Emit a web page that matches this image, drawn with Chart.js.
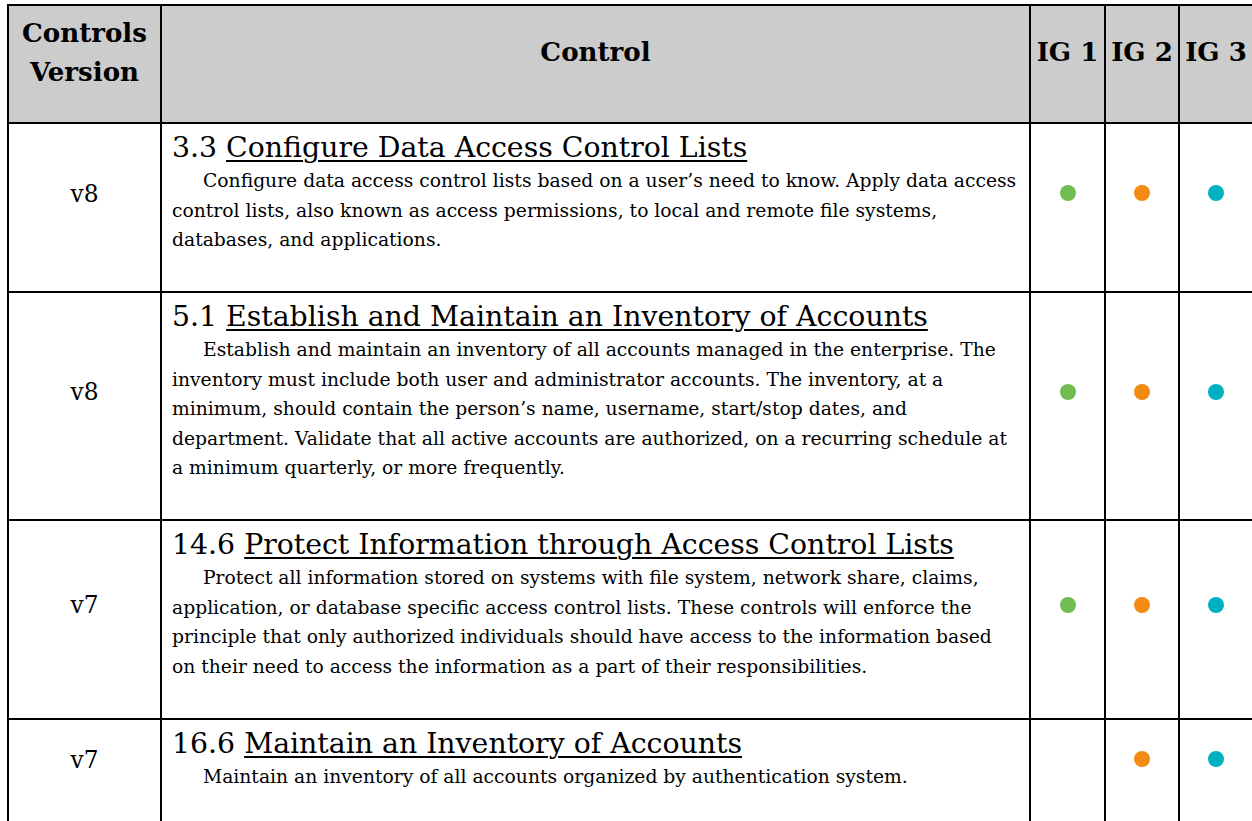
<!DOCTYPE html>
<html>
<head>
<meta charset="utf-8">
<script src="https://cdn.jsdelivr.net/npm/chart.js@4.4.1/dist/chart.umd.min.js"></script>
<style>
  html, body { margin: 0; padding: 0; background: #fff; }
  body { width: 1252px; height: 821px; overflow: hidden; position: relative; font-family: "DejaVu Serif", serif; color: #000; }
  table { position: absolute; left: 7px; top: 4px; border-collapse: collapse; table-layout: fixed; width: 1247px; }
  td, th { border: 2px solid #000; padding: 0; }
  th { background: #cccccc; font-weight: bold; vertical-align: middle; text-align: center; padding-bottom: 25px; line-height: 39px; }
  td.ver { text-align: center; vertical-align: middle; padding-bottom: 29px; }
  td.ctl { vertical-align: top; padding: 6px 0 0 10px; }
  td.ig { text-align: center; vertical-align: middle; padding-bottom: 29px; }
  .title { line-height: 36px; white-space: nowrap; }
  .title u { text-decoration-thickness: 1.5px; text-underline-offset: 3px; }
  .desc { line-height: 29.5px; white-space: nowrap; }
  .desc div:first-child { padding-left: 31px; }
  .dot { width: 40px; height: 40px; margin: 0 auto; }
  .dot canvas { display: block; width: 40px; height: 40px; }
</style>
</head>
<body>
<table id="tbl"></table>
<script>
// ---- data ----
const headerLabels = ['Controls Version', 'Control', 'IG 1', 'IG 2', 'IG 3'];
const versions = ['v8', 'v8', 'v7', 'v7'];
const controlIds = ['3.3', '5.1', '14.6', '16.6'];
const controlTitles = [
  'Configure Data Access Control Lists',
  'Establish and Maintain an Inventory of Accounts',
  'Protect Information through Access Control Lists',
  'Maintain an Inventory of Accounts'
];
const descriptionLines = [
  ['Configure data access control lists based on a user\u2019s need to know. Apply data access',
   'control lists, also known as access permissions, to local and remote file systems,',
   'databases, and applications.'],
  ['Establish and maintain an inventory of all accounts managed in the enterprise. The',
   'inventory must include both user and administrator accounts. The inventory, at a',
   'minimum, should contain the person\u2019s name, username, start/stop dates, and',
   'department. Validate that all active accounts are authorized, on a recurring schedule at',
   'a minimum quarterly, or more frequently.'],
  ['Protect all information stored on systems with file system, network share, claims,',
   'application, or database specific access control lists. These controls will enforce the',
   'principle that only authorized individuals should have access to the information based',
   'on their need to access the information as a part of their responsibilities.'],
  ['Maintain an inventory of all accounts organized by authentication system.']
];
const ig1 = [1, 1, 1, 0];
const ig2 = [1, 1, 1, 1];
const ig3 = [1, 1, 1, 1];

// ---- styles ----
const igColors = ['#6fbc50', '#f38b12', '#00b1c2'];
const colWidths = [153, 869, 75, 74, 74];
const rowHeights = [118, 169, 228, 198.5, 110];
const descIndent = 31;
const descMaxWidth = 845;

// font fitting to match reference text widths
const mctx = document.createElement('canvas').getContext('2d');
function measure(text, weight) {
  mctx.font = (weight || 'normal') + ' 100px "DejaVu Serif"';
  return mctx.measureText(text).width;
}
function fit(text, target, weight) { return 100 * target / measure(text, weight); }
let descSize = 100;
descriptionLines.forEach(lines => lines.forEach((line, i) => {
  const avail = descMaxWidth - (i === 0 ? descIndent : 0);
  descSize = Math.min(descSize, 100 * avail / measure(line));
}));
const titleSize = fit('14.6 Protect Information through Access Control Lists', 782);
const headSize = fit('Controls', 125, 'bold');
const verSize = fit('v8', 28);

const tbl = document.getElementById('tbl');
const cg = document.createElement('colgroup');
colWidths.forEach(w => { const c = document.createElement('col'); c.style.width = w + 'px'; cg.appendChild(c); });
tbl.appendChild(cg);

const hr = document.createElement('tr');
hr.style.height = rowHeights[0] + 'px';
headerLabels.forEach((h, i) => {
  const th = document.createElement('th');
  th.style.fontSize = headSize + 'px';
  if (i === 0) { th.innerHTML = 'Controls<br>Version'; } else th.textContent = h;
  hr.appendChild(th);
});
tbl.appendChild(hr);

const igSets = [ig1, ig2, ig3];
const cells = [];
versions.forEach((v, r) => {
  const tr = document.createElement('tr');
  tr.style.height = rowHeights[r + 1] + 'px';
  const tv = document.createElement('td');
  tv.className = 'ver'; tv.textContent = v; tv.style.fontSize = verSize + 'px';
  tr.appendChild(tv);
  const tc = document.createElement('td');
  tc.className = 'ctl';
  const t = document.createElement('div');
  t.className = 'title'; t.style.fontSize = titleSize + 'px';
  t.appendChild(document.createTextNode(controlIds[r] + ' '));
  const u = document.createElement('u'); u.textContent = controlTitles[r]; t.appendChild(u);
  tc.appendChild(t);
  const d = document.createElement('div');
  d.className = 'desc'; d.style.fontSize = descSize + 'px';
  descriptionLines[r].forEach(line => { const l = document.createElement('div'); l.textContent = line; d.appendChild(l); });
  tc.appendChild(d);
  tr.appendChild(tc);
  igSets.forEach((set, k) => {
    const td = document.createElement('td');
    td.className = 'ig';
    const box = document.createElement('div'); box.className = 'dot';
    const cv = document.createElement('canvas'); cv.width = 40; cv.height = 40;
    box.appendChild(cv); td.appendChild(box); tr.appendChild(td);
    cells.push({ cv, on: set[r], color: igColors[k] });
  });
  tbl.appendChild(tr);
});

cells.forEach(c => {
  new Chart(c.cv, {
    type: 'scatter',
    data: { datasets: [{ data: c.on ? [{ x: 0, y: 0 }] : [], backgroundColor: c.color, borderColor: c.color, borderWidth: 0, pointRadius: 8, pointHoverRadius: 8, pointStyle: 'circle', clip: false }] },
    options: {
      responsive: false, maintainAspectRatio: false, animation: false, events: [],
      devicePixelRatio: 1,
      layout: { padding: 0 },
      plugins: { legend: { display: false }, tooltip: { enabled: false } },
      scales: { x: { display: false, min: -1, max: 1 }, y: { display: false, min: -1, max: 1 } }
    }
  });
});
</script>
</body>
</html>
